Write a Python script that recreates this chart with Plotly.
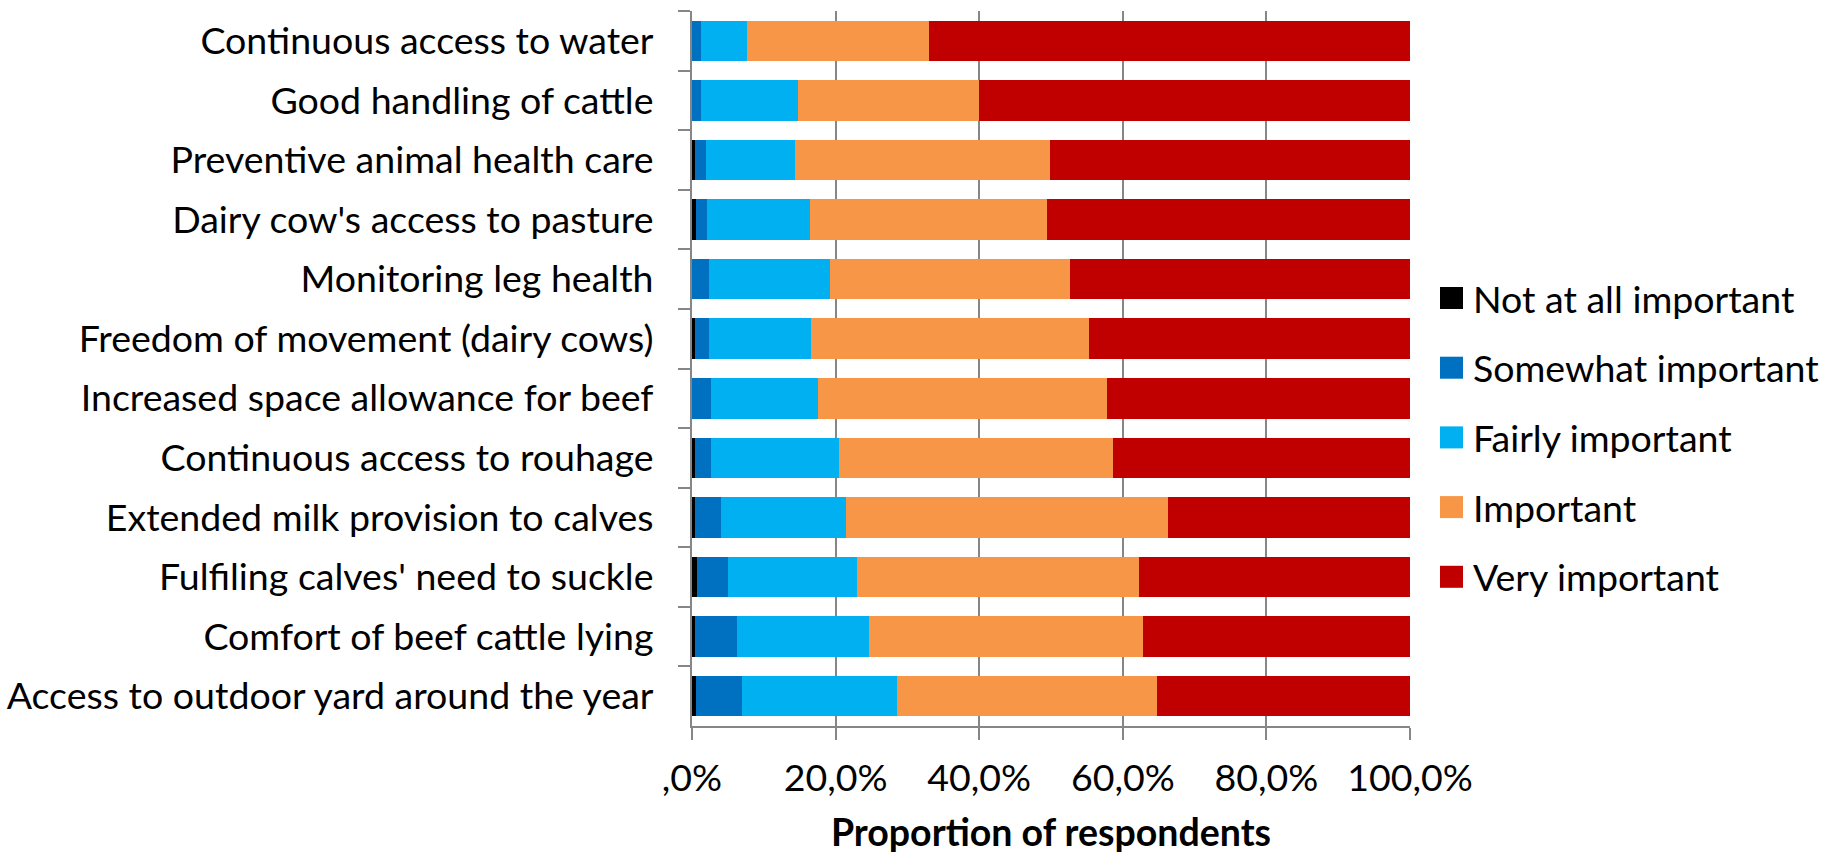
import plotly.graph_objects as go

# Survey items (top to bottom)
items = [
    "Continuous access to water",
    "Good handling of cattle",
    "Preventive animal health care",
    "Dairy cow's access to pasture",
    "Monitoring leg health",
    "Freedom of movement (dairy cows)",
    "Increased space allowance for beef",
    "Continuous access to rouhage",
    "Extended milk provision to calves",
    "Fulfiling calves' need to suckle",
    "Comfort of beef cattle lying",
    "Access to outdoor yard around the year",
]

# Share of respondents (%) per importance level
not_at_all = [0.0, 0.0, 0.4, 0.6, 0.0, 0.4, 0.0, 0.4, 0.4, 0.7, 0.4, 0.6]
somewhat   = [1.2, 1.2, 1.5, 1.5, 2.3, 1.9, 2.6, 2.2, 3.7, 4.3, 5.8, 6.3]
fairly     = [6.4, 13.6, 12.5, 14.3, 16.9, 14.3, 15.0, 17.9, 17.4, 18.0, 18.5, 21.6]
important  = [25.4, 25.2, 35.45, 33.1, 33.5, 38.7, 40.2, 38.1, 44.8, 39.2, 38.1, 36.2]
very       = [67.0, 60.0, 50.15, 50.5, 47.3, 44.7, 42.2, 41.4, 33.7, 37.8, 37.2, 35.3]

level_names = ["Not at all important", "Somewhat important", "Fairly important",
               "Important", "Very important"]
level_values = [not_at_all, somewhat, fairly, important, very]
level_colors = ["#000000", "#0070C0", "#00B0F0", "#F79646", "#C00000"]

x_tick_vals = [0, 20, 40, 60, 80, 100]
x_tick_text = [",0%", "20,0%", "40,0%", "60,0%", "80,0%", "100,0%"]

FONT = "Lato"
FS = 37.5
W, H = 1829, 854
ML, MR, MT, MB = 692, 419, 11, 128
PW, PH = W - ML - MR, H - MT - MB

fig = go.Figure()
for name, vals, col in zip(level_names, level_values, level_colors):
    fig.add_trace(go.Bar(
        y=items, x=vals, name=name, orientation="h",
        marker=dict(color=col, line=dict(width=0)),
        showlegend=False,
    ))

# Legend drawn as swatches + labels
shapes, annotations = [], []
leg_x0, sw_w, sw_h = 1440, 23, 22
leg_y0, leg_dy = 298, 69.7
for i, (name, col) in enumerate(zip(level_names, level_colors)):
    cy = leg_y0 + i * leg_dy
    shapes.append(dict(
        type="rect", xref="paper", yref="paper",
        x0=(leg_x0 - ML) / PW, x1=(leg_x0 + sw_w - ML) / PW,
        y0=(H - MB - (cy + sw_h / 2)) / PH, y1=(H - MB - (cy - sw_h / 2)) / PH,
        fillcolor=col, line=dict(width=0),
    ))
    annotations.append(dict(
        xref="paper", yref="paper", x=(leg_x0 + 31 - ML) / PW,
        y=(H - MB - cy) / PH, text=name, showarrow=False,
        xanchor="left", yanchor="middle",
        font=dict(family=FONT, size=FS, color="#000000"),
    ))

fig.update_layout(
    width=W, height=H,
    barmode="stack", bargap=0.32,
    plot_bgcolor="white", paper_bgcolor="white",
    margin=dict(l=ML, r=MR, t=MT, b=MB, autoexpand=False),
    font=dict(family=FONT, size=FS, color="#000000"),
    shapes=shapes, annotations=annotations,
    showlegend=False,
    xaxis=dict(
        range=[0, 100], tickvals=x_tick_vals, ticktext=x_tick_text,
        showgrid=True, gridcolor="#868686", gridwidth=2, zeroline=False,
        showline=True, linecolor="#868686", linewidth=2,
        ticks="outside", ticklen=12, tickwidth=2, tickcolor="#868686",
        ticklabelstandoff=6,
        tickfont=dict(family=FONT, size=FS),
        title=dict(text="<b>Proportion of respondents</b>", standoff=27,
                   font=dict(family=FONT, size=FS)),
        automargin=False, fixedrange=True,
    ),
    yaxis=dict(
        autorange=False, range=[11.5, -0.5], type="category",
        showgrid=False, zeroline=False,
        showline=True, linecolor="#868686", linewidth=2,
        ticks="outside", tickson="boundaries", ticklen=12, tickwidth=2,
        tickcolor="#868686", ticklabelstandoff=29,
        tickfont=dict(family=FONT, size=FS),
        automargin=False, fixedrange=True,
    ),
)

fig.write_html("out.html", config={"displayModeBar": False})
